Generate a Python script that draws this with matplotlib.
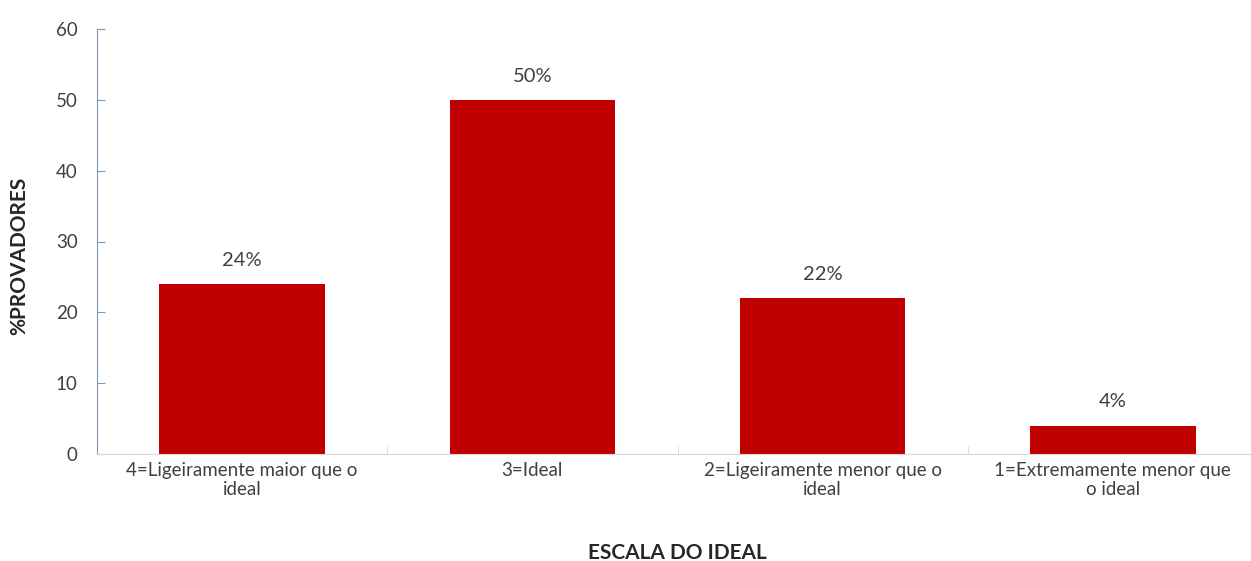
import matplotlib.pyplot as plt

categorias = ['4=Ligeiramente maior que o\nideal', '3=Ideal',
              '2=Ligeiramente menor que o\nideal', '1=Extremamente menor que\no ideal']
percentuais = [24, 50, 22, 4]
rotulos = ['24%', '50%', '22%', '4%']
yticks = [0, 10, 20, 30, 40, 50, 60]

plt.rcParams['font.family'] = ['Lato', 'DejaVu Sans']

fig = plt.figure(figsize=(12.51, 5.61), dpi=100)
ax = fig.add_axes([97 / 1251, 107 / 561, 1161 / 1251, 425 / 561])

x = list(range(len(categorias)))
barras = ax.bar(x, percentuais, width=0.57, color='#C00000')

# rótulos de porcentagem acima das barras
for b, r in zip(barras, rotulos):
    ax.annotate(r, (b.get_x() + b.get_width() / 2, b.get_height()),
                xytext=(0, 11), textcoords='offset points',
                ha='center', va='bottom', fontsize=14.5, color='#404040')

ax.set_xlim(-0.5, len(categorias) - 0.5)
ax.set_ylim(0, 60)
ax.set_yticks(yticks)

ax.set_xticks(x)
ax.set_xticklabels(categorias, fontsize=13.5, color='#404040', linespacing=1.1)
ax.set_xticks([i + 0.5 for i in range(-1, len(categorias))], minor=True)
ax.tick_params(axis='x', which='major', length=0, pad=6)
ax.tick_params(axis='x', which='minor', direction='in', length=6, color='#D9D9D9')
ax.tick_params(axis='y', direction='in', length=6, color='#8497B0',
               labelsize=13.5, labelcolor='#404040', pad=14)

for s in ['top', 'right']:
    ax.spines[s].set_visible(False)
ax.spines['left'].set_color('#8497B0')
ax.spines['bottom'].set_color('#D9D9D9')

ax.set_ylabel('%PROVADORES', fontsize=15, fontweight='bold', color='#262626')
ax.yaxis.set_label_coords(-0.0586, 0.466)
ax.set_xlabel('ESCALA DO IDEAL', fontsize=15, fontweight='bold', color='#262626')
ax.xaxis.set_label_coords(0.5, -0.21)

fig.savefig('out.png', dpi=100)
